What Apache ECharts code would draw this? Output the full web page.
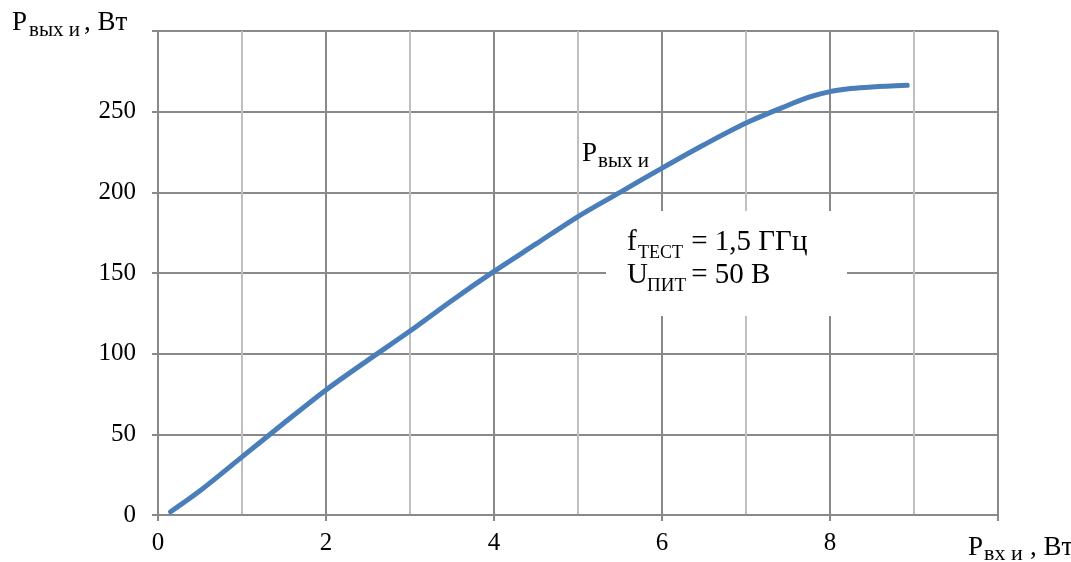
<!DOCTYPE html>
<html>
<head>
<meta charset="utf-8">
<script src="https://cdn.jsdelivr.net/npm/echarts@6/dist/echarts.min.js"></script>
<style>
html,body{margin:0;padding:0;background:#fff;}
#chart{width:1071px;height:562px;}
</style>
</head>
<body>
<div id="chart"></div>
<script>
// Data
const inputPower = [0.15, 0.5, 1, 1.5, 2, 2.5, 3, 3.5, 4, 4.5, 5, 5.5, 6, 6.5, 7, 7.5, 7.75, 8, 8.25, 8.5, 8.92];
const outputPower = [2, 15, 36, 57, 77.5, 96, 114, 133, 151, 168, 185, 200, 215, 229.5, 243, 254, 259, 262.4, 264.3, 265.3, 266.3];
const xTicks = [0, 2, 4, 6, 8];
const yTicks = [0, 50, 100, 150, 200, 250];

const FONT = '"Liberation Serif", "Times New Roman", serif';
const DARK = '#898989';
const LIGHT = '#bfbfbf';

function t(x, base, text, size) {
  return {
    type: 'text', x: x, y: base - size * 0.34, z: 100,
    style: { text: text, fontSize: size, fontFamily: FONT, fill: '#000', verticalAlign: 'middle', align: 'left' }
  };
}

const chart = echarts.init(document.getElementById('chart'));
chart.setOption({
  backgroundColor: '#fff',
  animation: false,
  grid: { left: 158, right: 73, top: 31, bottom: 47, containLabel: false },
  xAxis: {
    type: 'value', min: 0, max: 10, interval: 2,
    axisLine: { show: true, onZero: false, lineStyle: { color: DARK, width: 2 } },
    axisTick: { show: true, length: 6, lineStyle: { color: DARK, width: 2 } },
    axisLabel: {
      margin: 16, color: '#000', fontSize: 25, fontFamily: FONT,
      formatter: v => xTicks.includes(v) ? String(v) : ''
    },
    splitLine: { show: true, lineStyle: { color: DARK, width: 2 } },
    minorTick: { show: false, splitNumber: 2 },
    minorSplitLine: { show: true, lineStyle: { color: LIGHT, width: 2 } }
  },
  yAxis: {
    type: 'value', min: 0, max: 300, interval: 50,
    axisLine: { show: true, lineStyle: { color: DARK, width: 2 } },
    axisTick: { show: true, length: 6, lineStyle: { color: DARK, width: 2 } },
    axisLabel: {
      margin: 22, color: '#000', fontSize: 25, fontFamily: FONT,
      formatter: v => yTicks.includes(v) ? String(v) : ''
    },
    splitLine: { show: true, lineStyle: { color: DARK, width: 2 } }
  },
  series: [{
    type: 'line',
    data: inputPower.map((x, i) => [x, outputPower[i]]),
    smooth: 0.3,
    showSymbol: false,
    lineStyle: { color: '#4a7ebb', width: 5, cap: 'round' },
    z: 10
  }],
  graphic: [
    { type: 'rect', shape: { x: 606, y: 211, width: 241, height: 105 }, style: { fill: '#fff' }, z: 50 },
    // y axis title
    t(12, 32, 'P', 27), t(29, 38, 'вых и', 21), t(84, 32, ', Вт', 27),
    // x axis title
    t(968, 557, 'P', 27), t(984, 562, 'вх и', 22), t(1030, 557, ', Вт', 27),
    // series label
    t(582, 163, 'P', 27), t(598, 169, 'вых и', 21),
    // annotation
    t(627, 252, 'f', 29), t(638, 259, 'ТЕСТ', 18), t(684, 252, ' = 1,5 ГГц', 29),
    t(627, 285, 'U', 29), t(647, 292, 'ПИТ', 19), t(684, 285, ' = 50 В', 29)
  ]
});
</script>
</body>
</html>
